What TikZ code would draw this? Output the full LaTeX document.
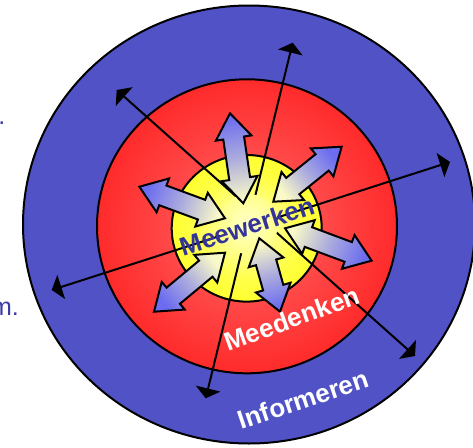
\documentclass[tikz,border=0pt]{standalone}
\usepackage{fontspec}
\setmainfont{Liberation Sans}
\usetikzlibrary{arrows.meta}
\definecolor{outerblue}{RGB}{80,82,198}
\definecolor{darkblue}{RGB}{51,51,153}
\definecolor{leftblue}{RGB}{60,60,165}
\definecolor{arrblue}{RGB}{108,108,240}
\definecolor{arrpale}{RGB}{250,250,200}
\definecolor{yelpale}{RGB}{255,255,205}
\definecolor{yelmid}{RGB}{255,255,70}
\definecolor{yelfull}{RGB}{255,255,0}
\definecolor{redpale}{RGB}{255,105,105}
\definecolor{redmid}{RGB}{255,55,55}
\definecolor{redfull}{RGB}{255,0,0}
\pgfdeclareradialshading{yelshade}{\pgfpoint{0bp}{0bp}}{color(0bp)=(yelpale); color(18bp)=(yelmid); color(40bp)=(yelfull); color(50bp)=(yelfull)}
\pgfdeclareradialshading{yelcore}{\pgfpoint{0bp}{0bp}}{color(0bp)=(yelpale); color(50bp)=(yelmid)}
\pgfdeclareradialshading{redshade}{\pgfpoint{0bp}{0bp}}{color(0bp)=(redpale); color(20bp)=(redmid); color(42bp)=(redfull); color(50bp)=(redfull)}
\tikzset{
  ring/.style={draw=black, line width=2pt},
  dblline/.style={line width=2pt, {Triangle[length=10pt,width=25pt]}-{Triangle[length=10pt,width=25pt]}},
  blockarrow/.style={draw=black, line width=2pt, line join=miter, top color=arrblue, bottom color=arrpale, middle color=arrblue!55!arrpale},
  lbl/.style={font=\fontsize{26}{30}\selectfont\bfseries, inner sep=0pt, anchor=base west},
  fragtext/.style={font=\fontsize{25}{30}\selectfont, text=leftblue, inner sep=0pt, anchor=base east},
}
\newcommand{\blockarr}[4]{%
  \pgfmathsetmacro\bdx{#3-#1}%
  \pgfmathsetmacro\bdy{-(#4-#2)}%
  \pgfmathsetmacro\bang{atan2(\bdy,\bdx)}%
  \pgfmathsetmacro\blen{veclen(\bdx,\bdy)}%
  \pgfmathsetmacro\bsa{\bang-90}%
  \begin{scope}[shift={(#1,#2)},rotate=\bang]
    \draw[blockarrow, shading angle=\bsa] (0,0) -- (25,18) -- (25,10.5) -- ({\blen-25},10.5) -- ({\blen-25},18) -- (\blen,0)
      -- ({\blen-25},-18) -- ({\blen-25},-10.5) -- (25,-10.5) -- (25,-18) -- cycle;
  \end{scope}}
\begin{document}
\begin{tikzpicture}[x=1pt,y=-1pt]
\useasboundingbox (0,0) rectangle (473,447);
\clip (0,0) rectangle (473,447);
% rings
\filldraw[ring, fill=outerblue] (249,224.5) ellipse [x radius=226, y radius=219];
\draw[ring, shading=redshade] (247,226.3) ellipse [x radius=150, y radius=147];
\draw[ring, shading=yelshade] (246.7,228.3) ellipse [x radius=75, y radius=73.3];
% double-headed lines
\coordinate (l1a) at (292.7,42.7);
\coordinate (l1b) at (205.7,398.3);
\coordinate (l2a) at (116.7,90);
\coordinate (l2b) at (415,356);
\coordinate (l3a) at (450,162);
\coordinate (l3b) at (51.7,290);
\draw[dblline] (l1a) -- (l1b);
\draw[dblline] (l2a) -- (l2b);
\draw[dblline] (l3a) -- (l3b);
% pale core
\shade[shading=yelcore] (248,224) circle (30);
% block arrows
\blockarr{243.3}{203.3}{230}{113.3}
\blockarr{273.3}{201.7}{341.7}{146.7}
\blockarr{225}{218.3}{139.3}{186.7}
\blockarr{285}{228.3}{371.7}{260.7}
\blockarr{225}{252.7}{154}{311.7}
\blockarr{259.3}{238.3}{280}{311.7}
% labels
\node[lbl, text=darkblue, rotate=18] (mw) at (183.3,256.7) {Meewerken};
\node[lbl, text=white, rotate=20] (md) at (228.3,351.7) {Meedenken};
\node[lbl, text=white, rotate=18.6] (inf) at (241.7,430) {Informeren};
% cut-off fragments at left
\node[fragtext] (frag1) at (19,315) {m.};
\node[fragtext] (frag2) at (5.5,124) {.};
\end{tikzpicture}
\end{document}
